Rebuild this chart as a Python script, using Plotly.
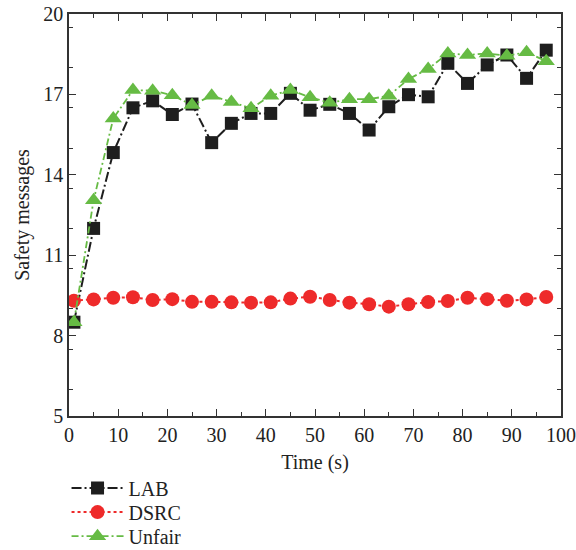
import plotly.graph_objects as go

time = [1, 5, 9, 13, 17, 21, 25, 29, 33, 37, 41, 45, 49, 53, 57, 61, 65, 69, 73, 77, 81, 85, 89, 93, 97]
lab = [8.5, 12.0, 14.83, 16.5, 16.76, 16.25, 16.64, 15.2, 15.92, 16.29, 16.29, 17.04, 16.41, 16.63, 16.29,
       15.67, 16.54, 16.99, 16.91, 18.16, 17.41, 18.1, 18.47, 17.6, 18.65]
dsrc = [9.30, 9.35, 9.41, 9.43, 9.33, 9.36, 9.26, 9.26, 9.24, 9.23, 9.24, 9.38, 9.45, 9.33, 9.23,
        9.17, 9.08, 9.17, 9.25, 9.29, 9.41, 9.36, 9.30, 9.35, 9.44]
unfair = [8.5, 13.05, 16.1, 17.16, 17.14, 16.97, 16.6, 16.95, 16.72, 16.48, 16.95, 17.16, 16.89, 16.69, 16.82,
          16.82, 16.95, 17.57, 17.95, 18.53, 18.47, 18.53, 18.44, 18.57, 18.24]

FONT = "Liberation Serif"
fig = go.Figure()
fig.add_trace(go.Scatter(x=time, y=lab, name="LAB", mode="lines+markers", legend="legend", showlegend=True,
                         line=dict(color="#1e1e1e", width=2, dash="10px,3px,2px,3px"),
                         marker=dict(symbol="square", size=13, color="#1e1e1e")))
fig.add_trace(go.Scatter(x=time, y=dsrc, name="DSRC", mode="lines+markers", legend="legend2", showlegend=True,
                         line=dict(color="#ee2a2a", width=2, dash="3px,3px"),
                         marker=dict(symbol="circle", size=14, color="#ee2a2a")))
fig.add_trace(go.Scatter(x=time, y=unfair, name="Unfair", mode="lines+markers", legend="legend3", showlegend=True,
                         line=dict(color="#66bb44", width=1.8, dash="7px,3px,2px,3px"),
                         marker=dict(symbol="triangle-up", size=15, color="#66bb44")))

axis_common = dict(showline=True, linecolor="#333", linewidth=1.5, mirror="allticks",
                   ticks="inside", ticklen=7, tickwidth=1.2, tickcolor="#333",
                   showgrid=False, zeroline=False,
                   tickfont=dict(family=FONT, size=20, color="#222"))
fig.update_xaxes(range=[0, 100], dtick=10, tick0=0,
                 minor=dict(ticks="inside", dtick=5, ticklen=4, tickcolor="#333"),
                 title=dict(text="Time (s)", font=dict(family=FONT, size=20, color="#222"), standoff=10),
                 **axis_common)
fig.update_yaxes(range=[5, 20], dtick=3, tick0=5,
                 minor=dict(ticks="inside", dtick=1.5, ticklen=4, tickcolor="#333"),
                 title=dict(text="Safety messages", font=dict(family=FONT, size=20, color="#222"), standoff=8),
                 **axis_common)

def leg(yv):
    return dict(x=-0.005, y=yv, xanchor="left", yanchor="middle", visible=True,
                font=dict(family=FONT, size=20, color="#222"),
                itemwidth=52, bgcolor="rgba(0,0,0,0)")

fig.update_layout(width=576, height=550, plot_bgcolor="white", paper_bgcolor="white",
                  showlegend=True,
                  margin=dict(l=69, r=15, t=14, b=134, autoexpand=False),
                  legend=leg(-0.179), legend2=leg(-0.239), legend3=leg(-0.299),
                  font=dict(family=FONT))
fig.write_html("out.html", config={"displayModeBar": False},
               post_script="document.body.style.margin='0';")
